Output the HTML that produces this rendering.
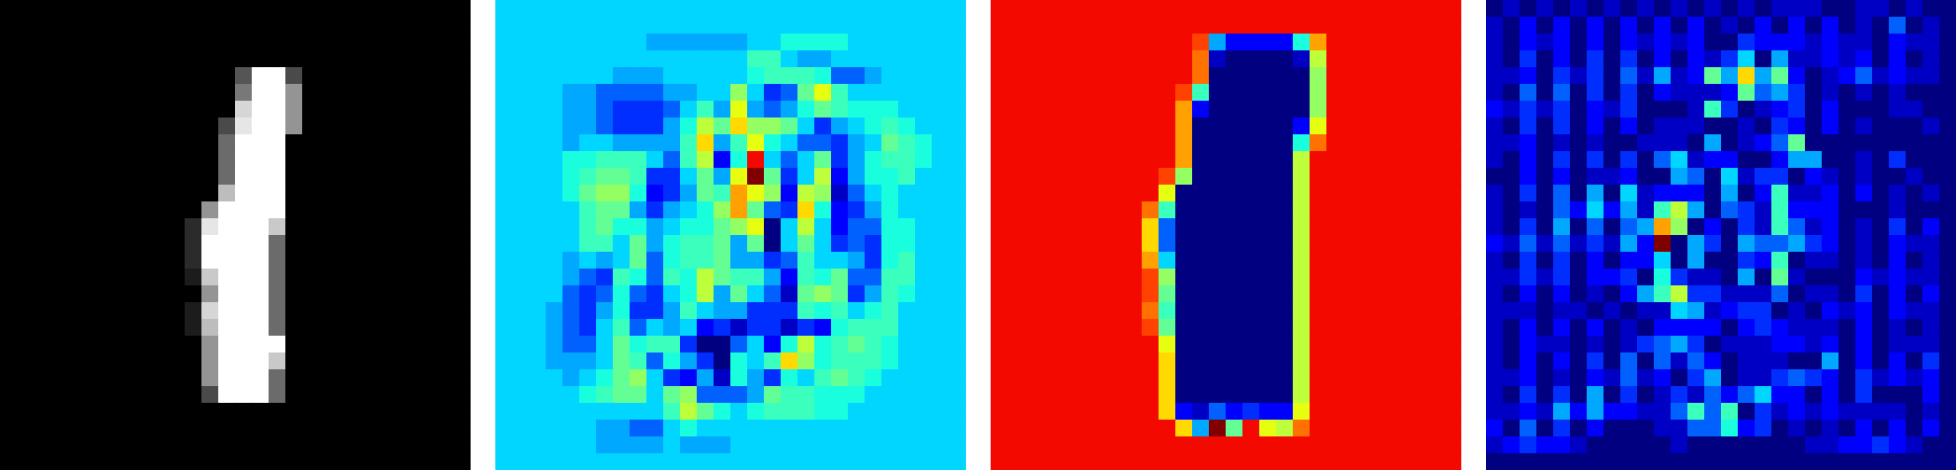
<!DOCTYPE html>
<html><head><meta charset="utf-8"><style>
html,body{margin:0;padding:0;background:#fff;width:1956px;height:470px;overflow:hidden}
svg{display:block}
</style></head><body>
<svg id="chart" width="1956" height="470" xmlns="http://www.w3.org/2000/svg"></svg>
<script>
// Level keys: each char indexes a value in [0,1]
const levelKeys = "0123456789ABCDEFGHIJ";
const levelValues = [0,0.06,0.11,0.17,0.22,0.29,0.335,0.38,0.42,0.47,0.53,0.58,0.63,0.68,0.74,0.79,0.84,0.9,0.95,1];
const Z = (c, n) => c.repeat(n);
// Panel 1: input digit (gray)
const panelInput = [
Z("0",28),Z("0",28),Z("0",28),Z("0",28),
Z("0",14)+"6JJ5"+Z("0",10),
Z("0",14)+"9JJB"+Z("0",10),
Z("0",14)+"GJJB"+Z("0",10),
Z("0",13)+"5HJJB"+Z("0",10),
Z("0",13)+"8JJJ"+Z("0",11),
Z("0",13)+"8JJJ"+Z("0",11),
Z("0",13)+"8JJJ"+Z("0",11),
Z("0",13)+"EJJJ"+Z("0",11),
Z("0",12)+"BJJJJ"+Z("0",11),
Z("0",11)+"3HJJJF"+Z("0",11),
Z("0",11)+"3JJJJ8"+Z("0",11),
Z("0",11)+"3JJJJ8"+Z("0",11),
Z("0",11)+"2FJJJ8"+Z("0",11),
Z("0",12)+"BJJJ8"+Z("0",11),
Z("0",11)+"2GJJJ8"+Z("0",11),
Z("0",11)+"2EJJJ8"+Z("0",11),
Z("0",12)+"BJJJJ"+Z("0",11),
Z("0",12)+"BJJJF"+Z("0",11),
Z("0",12)+"BJJJ8"+Z("0",11),
Z("0",12)+"5JJJ8"+Z("0",11),
Z("0",28),Z("0",28),Z("0",28),Z("0",28)
];
// Panel 2: attribution map (jet)
const panelAttr = [
Z("6",28),Z("6",28),
"666666666"+"555555"+"66"+"7777"+"6666666",
"666666666666666"+"88"+"6"+"55"+"66666666",
"6666666"+"555"+"66666"+"7"+"888"+"7"+"44"+"5"+"66666",
"6666"+"55444455"+"66"+"A"+"6"+"3"+"4"+"9"+"C"+"8"+"6666666",
"6666"+"554333468"+"5C545"+"798777"+"6"+"666",
"6666"+"5543335"+"7B9DAA9"+"635"+"6787"+"666",
"6666"+"5665555"+"8D58C76"+"4435"+"6987"+"66",
"6666"+"778886"+"48B27H"+"6469"+"357887"+"66",
"6666"+"7899833695CJ936B257786"+"66",
"6666"+"79AA723598ECA2BA14676"+"666",
"6666"+"689953567AE943D723576"+"666",
"6666"+"689775677"+"9AC06B624477"+"666",
"6666"+"688695788"+"959069634377"+"666",
"6666"+"565694788"+"955348665378"+"666",
"6666"+"54387487B"+"988528794488"+"666",
"6666"+"43474367B"+"596419A93587"+"666",
"66"+"65435733586553338786786"+"666",
"666"+"5436846562313313278886"+"666",
"666"+"544697883004627B789876"+"666",
"666"+"55569847530768DA788876"+"666",
"6666"+"5679A632517537689876"+"6666",
"66666"+"789969A44459887776"+"66666",
"6666666666"+"8B976788877"+"6666666",
"666666"+"5544"+"67"+Z("6",16),
"666666"+"5555"+"6"+"555"+Z("6",14),
Z("6",28)
];
// Panel 3: mask / boundary map (jet)
const panelMask = [
Z("H",28),Z("H",28),
Z("H",12)+"G522227E"+Z("H",8),
Z("H",12)+"F100001B"+Z("H",8),
Z("H",12)+"F000000A"+Z("H",8),
Z("H",11)+"G8000000A"+Z("H",8),
Z("H",11)+"E2000000A"+Z("H",8),
Z("H",11)+"E0000002C"+Z("H",8),
Z("H",11)+"E0000007F"+Z("H",8),
Z("H",11)+"E000000B"+Z("H",9),
Z("H",10)+"GA000000B"+Z("H",9),
Z("H",9)+"HC0000000B"+Z("H",9),
Z("H",9)+"F80000000B"+Z("H",9),
Z("H",9)+"D40000000B"+Z("H",9),
Z("H",9)+"D40000000B"+Z("H",9),
Z("H",9)+"E60000000B"+Z("H",9),
Z("H",9)+"GA0000000B"+Z("H",9),
Z("H",9)+"G90000000B"+Z("H",9),
Z("H",9)+"F80000000B"+Z("H",9),
Z("H",9)+"G90000000B"+Z("H",9),
Z("H",9)+"HC0000000B"+Z("H",9),
Z("H",9)+"HD0000000B"+Z("H",9),
Z("H",10)+"D0000000B"+Z("H",9),
Z("H",10)+"D0000000B"+Z("H",9),
Z("H",10)+"D2142322C"+Z("H",9),
Z("H",10)+"HD5J9HCBF"+Z("H",9),
Z("H",28),Z("H",28)
];
// Panel 4: gradient map (jet)
const panelGrad = [
"0101010101010101011100110100",
"1020202020202010202020104010",
"1021202021212003222121102110",
"1030203030202136051121202010",
"112031304151295D592012412110",
"1040403030211129453010101000",
"2131302130001830123020001100",
"1030302020111001032020100010",
"1120101001110501249000000000",
"1020303030461220025500103000",
"0020201120054061330210100100",
"1030405061222050281120201010",
"10104262518B5043182220001000",
"1030504045EA0203184120103020",
"2141413152J05305445320102110",
"1030302022605003280110102010",
"1131302230731105091000212110",
"10202010258B3311140110302020",
"1110110101165123301021202110",
"1020202010222202321110201010",
"1021101013453011122120201110",
"1020203040414201110050202030",
"1120102141203501134320312120",
"1030305030131424622020300020",
"1121525221148480312121111010",
"2040302000114472301010202020",
"1232210000010000000112232100",
Z("0",28)
];
const panels = [
  {rows: panelInput, cmap: "gray", name: "input-image"},
  {rows: panelAttr, cmap: "jet", name: "attribution-heatmap"},
  {rows: panelMask, cmap: "jet", name: "mask-heatmap"},
  {rows: panelGrad, cmap: "jet", name: "gradient-heatmap"}
];

function interp(pts, v){
  for (let i=1;i<pts.length;i++){
    if (v<=pts[i][0]){const [x0,y0]=pts[i-1],[x1,y1]=pts[i];return y0+(y1-y0)*(v-x0)/(x1-x0);}
  }
  return pts[pts.length-1][1];
}
function jet(v){
  const r=interp([[0,0],[0.35,0],[0.66,1],[0.89,1],[1,0.5]],v);
  const g=interp([[0,0],[0.125,0],[0.375,1],[0.64,1],[0.91,0],[1,0]],v);
  const b=interp([[0,0.5],[0.11,1],[0.34,1],[0.65,0],[1,0]],v);
  return `rgb(${Math.round(r*255)},${Math.round(g*255)},${Math.round(b*255)})`;
}
function gray(v){const c=Math.round(v*255);return `rgb(${c},${c},${c})`;}

const svg=document.getElementById('chart');
const NS="http://www.w3.org/2000/svg";
const W=1956,H=470,P=470,N=28;
const gap=(W-4*P)/3, cell=P/N;
const xScale=(p,c)=>p*(P+gap)+c*cell;
const yScale=r=>r*cell;
panels.forEach((pn,pi)=>{
  const g=document.createElementNS(NS,'g');
  
  
  pn.rows.forEach((row,ri)=>{
    for(let ci=0;ci<N;ci++){
      const idx=Math.max(0,levelKeys.indexOf(row[ci]||'0'));
      const v=levelValues[idx];
      const rect=document.createElementNS(NS,'rect');
      
      
      rect.setAttribute('x', xScale(pi,ci));
      rect.setAttribute('y', yScale(ri));
      rect.setAttribute('width', cell+0.6);
      rect.setAttribute('height', cell+0.6);
      rect.setAttribute('fill', pn.cmap==='gray'?gray(v):jet(v));
      g.appendChild(rect);
    }
  });
  svg.appendChild(g);
});
</script>
</body></html>
